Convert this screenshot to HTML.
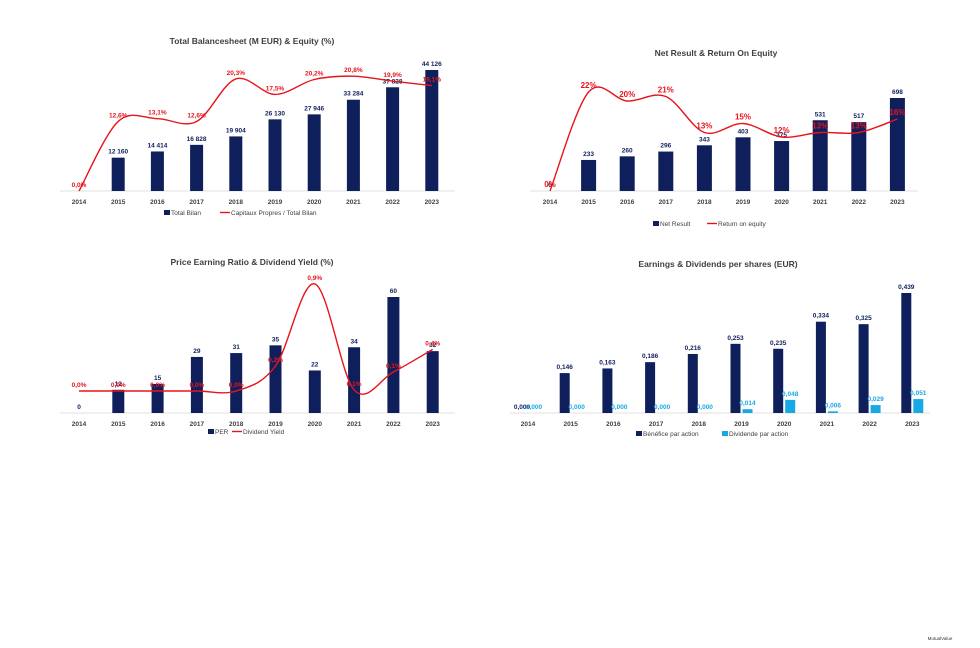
<!DOCTYPE html>
<html><head><meta charset="utf-8"><style>
html,body{margin:0;padding:0;background:#fff;width:980px;height:648px;overflow:hidden}
svg{display:block;font-family:"Liberation Sans",sans-serif}
</style></head><body>
<svg id="s" width="980" height="648" viewBox="0 0 980 648">
<text x="252" y="44" text-anchor="middle" font-size="8.5" font-weight="bold" fill="#404040">Total Balancesheet (M EUR) &amp; Equity (%)</text>
<text x="716" y="56" text-anchor="middle" font-size="8.5" font-weight="bold" fill="#404040">Net Result &amp; Return On Equity</text>
<text x="252" y="265" text-anchor="middle" font-size="8.5" font-weight="bold" fill="#404040">Price Earning Ratio &amp; Dividend Yield (%)</text>
<text x="718" y="267" text-anchor="middle" font-size="8.5" font-weight="bold" fill="#404040">Earnings &amp; Dividends per shares (EUR)</text>
<text x="940" y="640" text-anchor="middle" font-size="4.5" fill="#333">MutualValue</text>
</svg>
<script>
const years=["2014","2015","2016","2017","2018","2019","2020","2021","2022","2023"];
const bilan=[0,12160,14414,16828,19904,26130,27946,33284,37828,44126];
const bilanLabels=["","12 160","14 414","16 828","19 904","26 130","27 946","33 284","37 828","44 126"];
const equity=[0,12.6,13.1,12.6,20.3,17.5,20.2,20.8,19.9,19.1];
const equityLabels=["0,0%","12,6%","13,1%","12,6%","20,3%","17,5%","20,2%","20,8%","19,9%","19,1%"];
const netResult=[0,233,260,296,343,403,375,531,517,698];
const netLabels=["0","233","260","296","343","403","375","531","517","698"];
const roe=[0,22,20,21,13,15,12,13,13,16];
const roeLabels=["0%","22%","20%","21%","13%","15%","12%","13%","13%","16%"];
const per=[0,12,15,29,31,35,22,34,60,32];
const perLabels=["0","12","15","29","31","35","22","34","60","32"];
const yieldV=[0,0,0,0,0,0.21,0.9,0.01,0.16,0.35];
const yieldLabels=["0,0%","0,0%","0,0%","0,0%","0,0%","0,2%","0,9%","0,1%","0,1%","0,4%"];
const eps=[0,0.146,0.163,0.186,0.216,0.253,0.235,0.334,0.325,0.439];
const dps=[0,0,0,0,0,0.014,0.048,0.006,0.029,0.051];
const epsLabels=["0,000","0,146","0,163","0,186","0,216","0,253","0,235","0,334","0,325","0,439"];
const dpsLabels=["0,000","0,000","0,000","0,000","0,000","0,014","0,048","0,006","0,029","0,051"];

const S=document.getElementById('s');const NS="http://www.w3.org/2000/svg";
function mk(t,a,txt){const e=document.createElementNS(NS,t);for(const k in a)e.setAttribute(k,a[k]);if(txt!==undefined)e.textContent=txt;S.appendChild(e);return e;}
function smooth(p){let d="M"+p[0][0]+","+p[0][1];for(let i=0;i<p.length-1;i++){const p0=p[i-1]||p[i],p1=p[i],p2=p[i+1],p3=p[i+2]||p2;const t=6;d+=" C"+(p1[0]+(p2[0]-p0[0])/t)+","+(p1[1]+(p2[1]-p0[1])/t)+" "+(p2[0]-(p3[0]-p1[0])/t)+","+(p2[1]-(p3[1]-p1[1])/t)+" "+p2[0]+","+p2[1];}return d;}
const NAVY="#0f1f5c",RED="#e8141b",CYAN="#17a9e6";
function axis(prefix,x0,x1,base,xf){
  let e=mk('line',{x1:x0,x2:x1,y1:base,y2:base,stroke:"#d9d9d9","stroke-width":0.8});
  
  years.forEach((y,i)=>{e=mk('text',{x:xf(i),y:base+13,"text-anchor":"middle","font-size":6.5,"font-weight":"bold",fill:"#404040"},y);
  });
}
function bars(prefix,vals,labels,xf,yf,base,w,off,color,lblColor,name){
  vals.forEach((v,i)=>{const x=xf(i)+off-w/2,y=yf(v);
    let e=mk('rect',{x:x,y:y,width:w,height:Math.max(0,base-y),fill:color});
    
    if(labels[i]!==""){e=mk('text',{x:xf(i)+off,y:y-4,"text-anchor":"middle","font-size":6.5,"font-weight":"bold",fill:lblColor},labels[i]);
    }
  });
}
function line(prefix,vals,labels,xf,yf,fs){
  const pts=vals.map((v,i)=>[xf(i),yf(v)]);
  let e=mk('path',{d:smooth(pts),fill:"none",stroke:RED,"stroke-width":1.4});
  
  pts.forEach((p,i)=>{e=mk('text',{x:p[0],y:p[1]-4,"text-anchor":"middle","font-size":fs,"font-weight":"bold",fill:RED},labels[i]);
  });
}
function legend(prefix,x,y,items){
  let cx=x;items.forEach(it=>{let e;
    if(it.type==='bar')e=mk('rect',{x:cx,y:y-5,width:6,height:5,fill:it.c});
    else e=mk('line',{x1:cx-2,x2:cx+8,y1:y-2.5,y2:y-2.5,stroke:it.c,"stroke-width":1.4});
    
    e=mk('text',{x:cx+(it.type==='bar'?7:9),y:y,"font-size":6.5,fill:"#404040"},it.t);
    
    cx+=it.w;});
}
// Chart 1
{const xf=i=>79+i*39.2,b=191,yb=v=>b-v*121/44126,yl=v=>b-v*5.52;
axis('c1',60,455,b,xf);bars('c1',bilan,bilanLabels,xf,yb,b,13,0,NAVY,NAVY,'bilan');line('c1',equity,equityLabels,xf,yl,6.5);
legend('c1',164,215,[{type:'bar',c:NAVY,t:'Total Bilan',k:'total-bilan',w:58},{type:'line',c:RED,t:'Capitaux Propres / Total Bilan',k:'capitaux',w:120}]);}
// Chart 2
{const xf=i=>550+i*38.6,b=191,yb=v=>b-v*93/698,yl=v=>b-v*4.5;
axis('c2',530,918,b,xf);bars('c2',netResult,netLabels,xf,yb,b,15,0,NAVY,NAVY,'net-result');line('c2',roe,roeLabels,xf,yl,8);
legend('c2',653,226,[{type:'bar',c:NAVY,t:'Net Result',k:'net-result',w:56},{type:'line',c:RED,t:'Return on equity',k:'roe',w:80}]);}
// Chart 3
{const xf=i=>79+i*39.3,b=413,yb=v=>b-v*116/60,yl=v=>391-v*119;
axis('c3',60,455,b,xf);bars('c3',per,perLabels,xf,yb,b,12,0,NAVY,NAVY,'per');line('c3',yieldV,yieldLabels,xf,yl,6.5);
legend('c3',208,434,[{type:'bar',c:NAVY,t:'PER',k:'per',w:26},{type:'line',c:RED,t:'Dividend Yield',k:'dividend-yield',w:70}]);}
// Chart 4
{const xf=i=>528+i*42.7,b=413,yb=v=>b-v*120/0.439;
axis('c4',510,930,b,xf);bars('c4',eps,epsLabels,xf,yb,b,10,-6,NAVY,NAVY,'eps');bars('c4',dps,dpsLabels,xf,yb,b,10,6,CYAN,CYAN,'dps');
legend('c4',636,436,[{type:'bar',c:NAVY,t:'Bénéfice par action',k:'eps',w:86},{type:'bar',c:CYAN,t:'Dividende par action',k:'dps',w:90}]);}
</script>
</body></html>
